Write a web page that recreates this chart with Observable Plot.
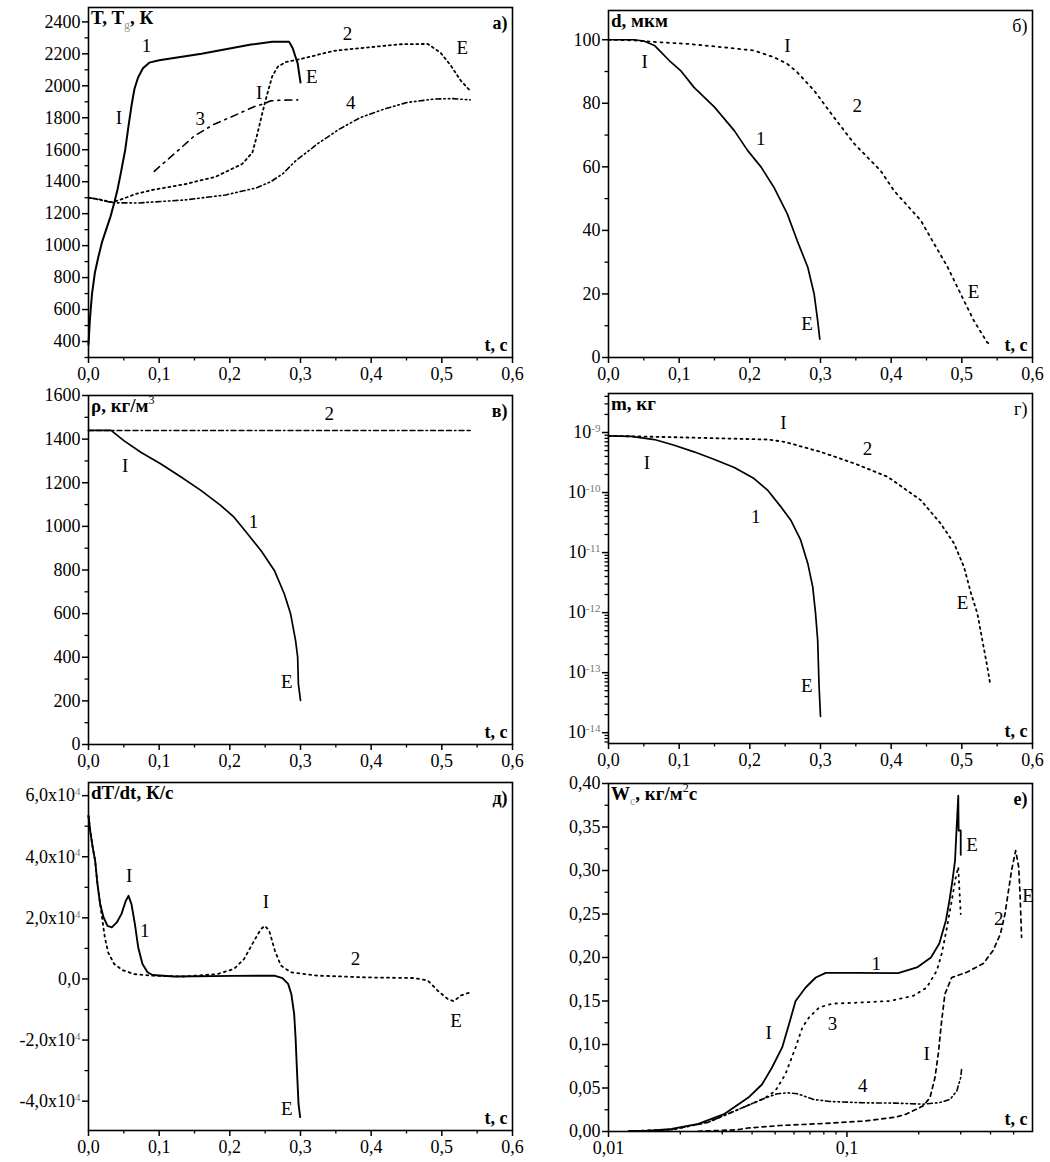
<!DOCTYPE html>
<html><head><meta charset="utf-8">
<script src="https://cdn.jsdelivr.net/npm/d3@7"></script>
<script src="https://cdn.jsdelivr.net/npm/@observablehq/plot@0.6"></script>
<style>
html,body{margin:0;padding:0;background:#fff;}
#fig{position:relative;width:1050px;height:1162px;background:#fff;overflow:hidden;}
#fig svg{position:absolute;}
</style></head><body><div id="fig"></div>
<script>
// ---------- panel а : T, Tg (K) vs t (s)
const a_t1 = [0,0.002,0.005,0.009,0.014,0.019,0.025,0.031,0.036,0.041,0.046,0.052,0.057,0.061,0.065,0.070,0.077,0.086,0.100,0.160,0.230,0.260,0.284,0.289,0.293,0.296,0.298,0.300];
const a_T1 = [380,540,700,830,930,1020,1100,1180,1260,1350,1460,1600,1760,1880,1980,2050,2110,2145,2160,2200,2258,2275,2275,2235,2180,2140,2080,2020];
const a_t2 = [0,0.015,0.034,0.050,0.0665,0.090,0.137,0.180,0.2175,0.232,0.239,0.246,0.253,0.260,0.268,0.280,0.300,0.347,0.395,0.442,0.480,0.498,0.513,0.527,0.540];
const a_T2 = [1300,1290,1271,1295,1323,1348,1385,1431,1511,1583,1700,1830,1950,2060,2120,2150,2167,2219,2240,2260,2262,2208,2125,2031,1969];
const a_t3 = [0.093,0.121,0.150,0.178,0.211,0.234,0.250,0.258,0.272,0.296];
const a_T3 = [1465,1573,1687,1760,1823,1869,1890,1906,1910,1912];
const a_t4 = [0,0.015,0.034,0.071,0.137,0.194,0.238,0.258,0.275,0.293,0.325,0.355,0.385,0.418,0.451,0.489,0.515,0.540];
const a_T4 = [1300,1288,1268,1267,1286,1317,1362,1400,1450,1530,1640,1729,1802,1854,1896,1917,1920,1912];
const a_yTicks = [400,600,800,1000,1200,1400,1600,1800,2000,2200,2400];
const a_notes = [
  {t:0.082,v:2250,s:"1"},{t:0.043,v:1802,s:"I"},{t:0.158,v:1792,s:"3"},{t:0.2415,v:1958,s:"I"},
  {t:0.316,v:2056,s:"E"},{t:0.3665,v:2323,s:"2"},{t:0.529,v:2240,s:"E"},{t:0.371,v:1896,s:"4"}];

// ---------- panel б : d (мкм)
const b_t1 = [0,0.036,0.050,0.065,0.088,0.102,0.121,0.150,0.178,0.197,0.216,0.234,0.253,0.267,0.282,0.291,0.296,0.299];
const b_d1 = [100,100,99.6,98.2,93,90.3,85,78.8,71.4,65.1,59.9,53.6,45.2,36.8,28.4,20,11.6,5.8];
const b_t2 = [0,0.036,0.065,0.112,0.159,0.206,0.234,0.253,0.267,0.291,0.319,0.348,0.385,0.404,0.423,0.442,0.461,0.480,0.503,0.517,0.536,0.541];
const b_d2 = [100,99.8,99.3,98.7,97.7,96.6,94.5,92.4,89.8,84,75.6,67.2,58.8,52.5,47.8,43.1,35.7,28.4,17.9,11.6,4.7,4.2];
const b_yTicks = [0,20,40,60,80,100];
const b_notes = [
  {t:0.253,v:98.2,s:"I"},{t:0.051,v:93,s:"I"},{t:0.352,v:79.3,s:"2"},{t:0.2156,v:68.8,s:"1"},
  {t:0.5165,v:20.5,s:"E"},{t:0.281,v:10.5,s:"E"}];

// ---------- panel в : ρ (кг/м³)
const c_t1 = [0,0.032,0.050,0.074,0.102,0.131,0.159,0.187,0.206,0.225,0.244,0.263,0.277,0.286,0.293,0.296,0.297,0.300];
const c_r1 = [1440,1440,1393,1340,1287,1226,1165,1096,1042,966,889,798,691,599,477,400,278,202];
const c_t2 = [0,0.54];
const c_r2 = [1440,1440];
const c_yTicks = [0,200,400,600,800,1000,1200,1400,1600];
const c_notes = [
  {t:0.3406,v:1516,s:"2"},{t:0.052,v:1279,s:"I"},{t:0.2335,v:1019,s:"1"},{t:0.2807,v:286,s:"E"}];

// ---------- panel г : m (кг), log
const g_t1 = [0,0.032,0.065,0.093,0.121,0.150,0.178,0.206,0.225,0.244,0.258,0.272,0.282,0.289,0.293,0.296,0.298,0.300];
const g_m1 = [8.8e-10,8.6e-10,7.64e-10,6.15e-10,4.77e-10,3.55e-10,2.61e-10,1.71e-10,1.10e-10,5.78e-11,3.47e-11,1.61e-11,6.6e-12,2.69e-12,9.7e-13,3.5e-13,5.9e-14,1.86e-14];
const g_t2 = [0,0.112,0.225,0.249,0.300,0.348,0.395,0.442,0.470,0.489,0.503,0.513,0.522,0.529,0.536,0.540];
const g_m2 = [8.8e-10,8.26e-10,7.64e-10,7.0e-10,4.77e-10,3.05e-10,1.83e-10,7.47e-11,3.05e-11,1.42e-11,5.8e-12,2.09e-12,9.7e-13,3.49e-13,1.26e-13,6.6e-14];
const g_yTicks = [1e-14,1e-13,1e-12,1e-11,1e-10,1e-9];
const g_notes = [
  {t:0.2476,v:Math.pow(10,-8.84),s:"I"},{t:0.0542,v:Math.pow(10,-9.505),s:"I"},
  {t:0.3665,v:Math.pow(10,-9.277),s:"2"},{t:0.2085,v:Math.pow(10,-10.404),s:"1"},
  {t:0.501,v:Math.pow(10,-11.83),s:"E"},{t:0.2807,v:Math.pow(10,-13.22),s:"E"}];

// ---------- panel д : dT/dt (K/c), values in units of 10^4
const d_t1 = [0,0.0024,0.006,0.0094,0.0127,0.0165,0.0212,0.0269,0.033,0.040,0.0467,0.0528,0.0566,0.0608,0.0656,0.0703,0.0764,0.0835,0.0906,0.121,0.206,0.263,0.2745,0.2825,0.287,0.291,0.293,0.2948,0.2972,0.2995];
const d_v1 = [5.34,4.85,4.3,3.87,3.1,2.45,2.02,1.74,1.69,1.85,2.13,2.56,2.72,2.45,1.80,1.04,0.49,0.22,0.13,0.08,0.10,0.11,0.03,-0.16,-0.49,-1.14,-1.91,-2.89,-4.09,-4.52];
const d_t2 = [0,0.0024,0.006,0.0094,0.0127,0.0165,0.0198,0.0231,0.0278,0.0363,0.048,0.0646,0.088,0.135,0.1825,0.206,0.220,0.2344,0.2439,0.2495,0.2557,0.2637,0.2722,0.2863,0.324,0.395,0.461,0.480,0.494,0.508,0.517,0.527,0.540];
const d_v2 = [5.34,4.85,4.3,3.87,3.1,2.45,1.91,1.36,0.87,0.49,0.29,0.16,0.11,0.08,0.16,0.33,0.65,1.25,1.63,1.74,1.58,0.93,0.44,0.22,0.11,0.05,0.03,-0.05,-0.38,-0.65,-0.73,-0.54,-0.44];
const d_yTicks = [-4e4,-2e4,0,2e4,4e4,6e4];
const d_notes = [
  {t:0.0575,v:3.38e4,s:"I"},{t:0.0797,v:1.58e4,s:"1"},{t:0.251,v:2.51e4,s:"I"},
  {t:0.378,v:0.65e4,s:"2"},{t:0.52,v:-1.36e4,s:"E"},{t:0.2807,v:-4.25e4,s:"E"}];

// ---------- panel е : Wc (кг/м²с) vs log t
const e_t1 = [0.0122,0.015,0.0184,0.0238,0.0307,0.0386,0.0440,0.0485,0.0535,0.0571,0.0609,0.0671,0.0740,0.0815,0.109,0.164,0.198,0.225,0.244,0.260,0.269,0.277,0.284,0.288,0.293,0.294,0.300,0.300];
const e_w1 = [0.0005,0.001,0.003,0.0088,0.0203,0.039,0.054,0.0736,0.0966,0.123,0.150,0.1655,0.177,0.1824,0.1824,0.182,0.189,0.200,0.216,0.2425,0.2655,0.2885,0.3115,0.346,0.386,0.346,0.346,0.318];
const e_t2 = [0.0238,0.0348,0.0384,0.0527,0.085,0.117,0.160,0.1775,0.209,0.223,0.234,0.2415,0.2495,0.2576,0.275,0.318,0.373,0.410,0.440,0.460,0.476,0.490,0.510,0.525,0.532,0.540];
const e_w2 = [0.0003,0.002,0.004,0.0069,0.0096,0.0119,0.0165,0.020,0.0295,0.039,0.062,0.089,0.127,0.158,0.177,0.183,0.193,0.208,0.227,0.250,0.277,0.300,0.323,0.304,0.273,0.223];
const e_t3 = [0.0122,0.0184,0.0262,0.0348,0.0384,0.045,0.0501,0.0552,0.0609,0.065,0.0693,0.0764,0.087,0.109,0.151,0.190,0.216,0.238,0.250,0.262,0.275,0.285,0.293,0.296,0.300];
const e_w3 = [0.0005,0.002,0.0107,0.025,0.030,0.038,0.0467,0.0659,0.0966,0.1195,0.131,0.1425,0.147,0.148,0.150,0.156,0.1655,0.1847,0.205,0.233,0.265,0.290,0.304,0.280,0.250];
const e_t4 = [0.0122,0.0184,0.0262,0.0348,0.0384,0.045,0.051,0.0563,0.062,0.0725,0.085,0.117,0.160,0.209,0.2455,0.2706,0.289,0.300,0.303];
const e_w4 = [0.0005,0.002,0.0107,0.025,0.030,0.038,0.0433,0.0445,0.0433,0.0368,0.0345,0.033,0.0326,0.0314,0.0333,0.037,0.0467,0.062,0.0736];
const e_xTicks = [0.01,0.1];
const e_yTicks = [0,0.05,0.10,0.15,0.20,0.25,0.30,0.35,0.40];
const e_notes = [
  {t:0.1327,v:0.1923,s:"1"},{t:0.047,v:0.1138,s:"I"},{t:0.087,v:0.1234,s:"3"},{t:0.1165,v:0.0525,s:"4"},
  {t:0.216,v:0.0889,s:"I"},{t:0.4335,v:0.244,s:"2"},{t:0.335,v:0.329,s:"E"},{t:0.575,v:0.271,s:"E"}];

const tTicks = [0,0.1,0.2,0.3,0.4,0.5,0.6];

// ---------- helpers
const pts = (ts, vs, k = 1) => ts.map((t, i) => ({t, v: vs[i] * k}));
const comma = (d, n) => d.toFixed(n).replace(".", ",");
const DOT = "2,3.5", DASHDOT = "7,5,2,5", DASHDOTDOT = "5,3,1.5,3,1.5,3";
const FONT = "Liberation Serif, Times New Roman, serif";
const fig = document.getElementById("fig");

function panel(c) {
  const mb = c.height - c.mt - c.fh;
  const marks = [
    Plot.axisX({ticks: c.xMinor, tickSize: 3.5, tickFormat: () => "", label: null, strokeWidth: 1.3}),
    Plot.axisX({ticks: c.xMajor, tickSize: 6, tickPadding: 4, tickFormat: c.xFmt, label: null, strokeWidth: 1.5}),
    Plot.axisY({ticks: c.yMinor, tickSize: 3.5, tickFormat: () => "", label: null, strokeWidth: 1.3}),
    Plot.axisY({ticks: c.yMajor, tickSize: 6, tickPadding: 2, tickFormat: c.yFmt, label: null, strokeWidth: 1.5}),
    ...c.lines.map(l => Plot.line(l.data, {x: "t", y: "v", stroke: "black", strokeWidth: l.w || 1.7, strokeDasharray: l.dash})),
    Plot.text(c.notes, {x: "t", y: "v", text: "s", fontSize: 19}),
    Plot.text([c.letter], {frameAnchor: "top-right", dx: -5, dy: 9, fontWeight: c.letterBold ? "bold" : "normal", fontSize: 18}),
    Plot.text(["t, с"], {frameAnchor: "bottom-right", dx: -5, dy: -7, fontWeight: "bold", fontSize: 18}),
    Plot.frame({stroke: "black", strokeWidth: 1.6})
  ];
  const svg = Plot.plot({
    width: 530, height: c.height,
    marginLeft: 88, marginRight: 18, marginTop: c.mt, marginBottom: mb,
    style: {fontFamily: FONT, fontSize: "18px", color: "black", background: "transparent", overflow: "visible"},
    x: {type: c.xType || "linear", domain: c.xDomain},
    y: {type: c.yType || "linear", domain: c.yDomain},
    marks
  });
  svg.style.left = c.left + "px";
  svg.style.top = c.top + "px";
  // tick labels of the form base^exp -> base with superscript tspan
  d3.select(svg).selectAll("text").each(function() {
    const s = this.textContent;
    if (!s.includes("^")) return;
    const [base, exp] = s.split("^");
    const el = d3.select(this);
    el.selectAll("*").remove();
    el.text(null);
    el.append("tspan").text(base);
    el.append("tspan").text(exp).attr("dy", "-0.55em").attr("font-size", 11).attr("fill", "#777");
  });
  // axis title with sub/superscripts, top-left inside frame
  const t = d3.select(svg).append("text")
    .attr("x", 88 + 3).attr("y", c.mt + 17).attr("text-anchor", "start")
    .attr("font-family", FONT).attr("font-size", 19).attr("font-weight", "bold").attr("fill", "black");
  let shift = 0;
  c.title.forEach(([s, kind]) => {
    const target = kind === "sub" ? 5 : kind === "sup" ? -8 : 0;
    const sp = t.append("tspan").text(s).attr("dy", target - shift);
    if (kind) sp.attr("font-size", 12).attr("font-weight", "normal");
    if (kind === "sub") sp.attr("fill", "#999");
    shift = target;
  });
  fig.appendChild(svg);
}

const tMinor = d3.range(0.05, 0.6, 0.1);
const tFmt = d => comma(d, 1);

panel({
  left: 0, top: 0, height: 390, mt: 7, fh: 350,
  xDomain: [0, 0.6], xMajor: tTicks, xMinor: tMinor, xFmt: tFmt,
  yDomain: [300, 2490], yMajor: a_yTicks, yMinor: d3.range(300, 2500, 200), yFmt: d => String(d),
  lines: [
    {data: pts(a_t4, a_T4), dash: DASHDOTDOT, w: 1.6},
    {data: pts(a_t3, a_T3), dash: DASHDOT, w: 1.6},
    {data: pts(a_t2, a_T2), dash: DOT, w: 1.8},
    {data: pts(a_t1, a_T1), w: 2}
  ],
  notes: a_notes, letter: "а)", letterBold: true,
  title: [["T, T"], ["g", "sub"], [", К"]]
});

panel({
  left: 520, top: 0, height: 390, mt: 10, fh: 347,
  xDomain: [0, 0.6], xMajor: tTicks, xMinor: tMinor, xFmt: tFmt,
  yDomain: [0, 109.2], yMajor: b_yTicks, yMinor: d3.range(10, 110, 20), yFmt: d => String(d),
  lines: [
    {data: pts(b_t2, b_d2), dash: "2,4.5", w: 1.8},
    {data: pts(b_t1, b_d1), w: 1.7}
  ],
  notes: b_notes, letter: "б)", letterBold: false,
  title: [["d, мкм"]]
});

panel({
  left: 0, top: 380, height: 397, mt: 15, fh: 349,
  xDomain: [0, 0.6], xMajor: tTicks, xMinor: tMinor, xFmt: tFmt,
  yDomain: [0, 1600], yMajor: c_yTicks, yMinor: d3.range(100, 1600, 200), yFmt: d => String(d),
  lines: [
    {data: pts(c_t2, c_r2), dash: "5,3,5,3,5,3,1.5,3", w: 1.5},
    {data: pts(c_t1, c_r1), w: 1.7}
  ],
  notes: c_notes, letter: "в)", letterBold: true,
  title: [["ρ, кг/м"], ["3", "sup"]]
});

const logMinor = (lo, hi) => {
  const out = [];
  for (let e = lo; e <= hi; e++) for (let k = 2; k <= 9; k++) out.push(k * Math.pow(10, e));
  return out;
};

panel({
  left: 520, top: 380, height: 396, mt: 13, fh: 350,
  xDomain: [0, 0.6], xMajor: tTicks, xMinor: tMinor, xFmt: tFmt,
  yType: "log", yDomain: [Math.pow(10, -14.18), Math.pow(10, -8.35)],
  yMajor: g_yTicks, yMinor: logMinor(-15, -9).filter(v => v > Math.pow(10, -14.18) && v < Math.pow(10, -8.35)),
  yFmt: d => "10^" + Math.round(Math.log10(d)),
  lines: [
    {data: pts(g_t2, g_m2), dash: "2,4", w: 1.8},
    {data: pts(g_t1, g_m1), w: 1.7}
  ],
  notes: g_notes, letter: "г)", letterBold: false,
  title: [["m, кг"]]
});

panel({
  left: 0, top: 764, height: 398, mt: 18, fh: 348,
  xDomain: [0, 0.6], xMajor: tTicks, xMinor: tMinor, xFmt: tFmt,
  yDomain: [-4.96e4, 6.43e4], yMajor: d_yTicks, yMinor: d3.range(-3e4, 6.5e4, 2e4),
  yFmt: d => d === 0 ? "0,0" : comma(d / 1e4, 1) + "x10^4",
  lines: [
    {data: pts(d_t2, d_v2, 1e4), dash: "2,4", w: 1.8},
    {data: pts(d_t1, d_v1, 1e4), w: 1.9}
  ],
  notes: d_notes, letter: "д)", letterBold: true,
  title: [["dT/dt, К/с"]]
});

panel({
  left: 520, top: 764, height: 398, mt: 19, fh: 348,
  xType: "log", xDomain: [0.01, 0.6], xMajor: e_xTicks,
  xMinor: logMinor(-2, -1).filter(v => v < 0.6), xFmt: d => comma(d, d < 0.05 ? 2 : 1),
  yDomain: [0, 0.4], yMajor: e_yTicks, yMinor: d3.range(0.025, 0.4, 0.05), yFmt: d => comma(d, 2),
  lines: [
    {data: pts(e_t4, e_w4), dash: DASHDOTDOT, w: 1.6},
    {data: pts(e_t3, e_w3), dash: "1.5,5", w: 1.8},
    {data: pts(e_t2, e_w2), dash: "4,4", w: 1.7},
    {data: pts(e_t1, e_w1), w: 1.8}
  ],
  notes: e_notes, letter: "е)", letterBold: true,
  title: [["W"], ["c", "sub"], [", кг/м"], ["2", "sup"], ["с"]]
});
</script></body></html>
